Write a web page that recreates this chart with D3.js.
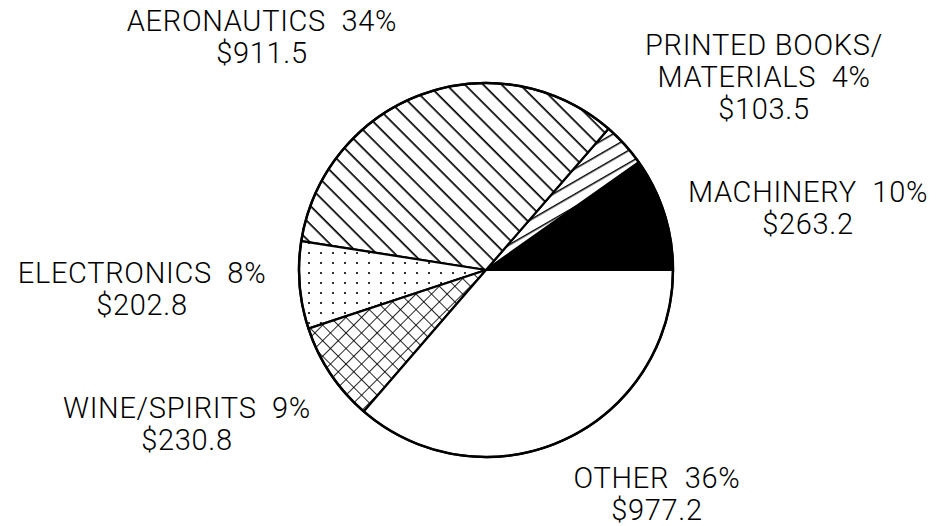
<!DOCTYPE html>
<html>
<head>
<meta charset="utf-8">
<script src="https://cdn.jsdelivr.net/npm/d3@7"></script>
<style>
  html, body { margin: 0; padding: 0; background: #fff; }
  svg { display: block; }
  .lbl { font-family: Roboto, "Liberation Sans", Arial, sans-serif; font-weight: 300; font-size: 29px; letter-spacing: 0.7px; fill: #000; white-space: pre; }
</style>
</head>
<body>
<div id="chart"></div>
<script>
// Slice data, in drawing order (counter-clockwise from 3 o'clock)
var categories = ["MACHINERY", "PRINTED BOOKS/ MATERIALS", "AERONAUTICS", "ELECTRONICS", "WINE/SPIRITS", "OTHER"];
var values = [263.2, 103.5, 911.5, 202.8, 230.8, 977.2];
var percents = ["10%", "4%", "34%", "8%", "9%", "36%"];
var fills = ["solid", "sparse", "hatch", "dots", "cross", "none"];

// label text lines for each slice
var labelLines = [
    ["MACHINERY  10%", "$263.2"],
    ["PRINTED BOOKS/", "MATERIALS  4%", "$103.5"],
    ["AERONAUTICS  34%", "$911.5"],
    ["ELECTRONICS  8%", "$202.8"],
    ["WINE/SPIRITS  9%", "$230.8"],
    ["OTHER  36%", "$977.2"]
];
// label anchor (center x, first baseline y)
var labelAt = [[808, 202], [764, 55], [262, 31], [142, 283], [187, 418], [657, 488]];

var width = 940;
var height = 526;
var cx = 486, cy = 270, radius = 187;

var svg = d3.select("#chart")
    .append("svg")
    .attr("width", width)
    .attr("height", height);

// Patterns
var defs = svg.append("defs");

var hatch = defs.append("pattern")
    .attr("id", "hatch")
    .attr("patternUnits", "userSpaceOnUse")
    .attr("width", 13).attr("height", 13)
    .attr("patternTransform", "rotate(45)");
hatch.append("rect").attr("width", 13).attr("height", 13).attr("fill", "#fff");
hatch.append("line").attr("x1", 0).attr("y1", 0).attr("x2", 13).attr("y2", 0)
    .attr("stroke", "#000").attr("stroke-width", 3.4);

var sparse = defs.append("pattern")
    .attr("id", "sparse")
    .attr("patternUnits", "userSpaceOnUse")
    .attr("width", 20).attr("height", 11)
    .attr("patternTransform", "rotate(-30)");
sparse.append("rect").attr("width", 20).attr("height", 11).attr("fill", "#fff");
sparse.append("line").attr("x1", 0).attr("y1", 0).attr("x2", 20).attr("y2", 0)
    .attr("stroke", "#000").attr("stroke-width", 3);

var dots = defs.append("pattern")
    .attr("id", "dots")
    .attr("patternUnits", "userSpaceOnUse")
    .attr("width", 12).attr("height", 10);
dots.append("rect").attr("width", 12).attr("height", 10).attr("fill", "#fff");
dots.append("circle").attr("cx", 3).attr("cy", 3).attr("r", 1.1).attr("fill", "#000");

var cross = defs.append("pattern")
    .attr("id", "cross")
    .attr("patternUnits", "userSpaceOnUse")
    .attr("width", 11).attr("height", 11)
    .attr("patternTransform", "rotate(45)");
cross.append("rect").attr("width", 11).attr("height", 11).attr("fill", "#fff");
cross.append("line").attr("x1", 0).attr("y1", 0).attr("x2", 11).attr("y2", 0)
    .attr("stroke", "#000").attr("stroke-width", 1.7);
cross.append("line").attr("x1", 0).attr("y1", 0).attr("x2", 0).attr("y2", 11)
    .attr("stroke", "#000").attr("stroke-width", 1.7);

function fillFor(f) {
    if (f === "solid") return "#000";
    if (f === "none") return "#fff";
    return "url(#" + f + ")";
}

var dataForPie = categories.map(function (c, i) {
    return { name: c, value: values[i], fill: fills[i] };
});

// start at 3 o'clock and go counter-clockwise
var pie = d3.pie()
    .sort(null)
    .value(function (d) { return d.value; })
    .startAngle(Math.PI / 2)
    .endAngle(Math.PI / 2 - 2 * Math.PI);

var arc = d3.arc()
    .innerRadius(0)
    .outerRadius(radius);

var g = svg.append("g")
    .attr("transform", "translate(" + cx + "," + cy + ")");

g.selectAll("path")
    .data(pie(dataForPie))
    .enter()
    .append("path")
    .attr("d", arc)
    .attr("fill", function (d) { return fillFor(d.data.fill); })
    .attr("stroke", "#000")
    .attr("stroke-width", 2.2)
    .attr("stroke-linejoin", "round");

// outer ring
g.append("circle")
    .attr("r", radius)
    .attr("fill", "none")
    .attr("stroke", "#000")
    .attr("stroke-width", 2.5);

// Labels
var labels = svg.selectAll("text.lbl")
    .data(labelLines)
    .enter()
    .append("text")
    .attr("class", "lbl")
    .attr("text-anchor", "middle")
    .attr("x", function (d, i) { return labelAt[i][0]; })
    .attr("y", function (d, i) { return labelAt[i][1]; });

labels.each(function (lines, i) {
    var t = d3.select(this);
    lines.forEach(function (line, j) {
        t.append("tspan")
            .attr("x", labelAt[i][0])
            .attr("y", labelAt[i][1] + j * 32)
            .text(line);
    });
});
</script>
</body>
</html>
